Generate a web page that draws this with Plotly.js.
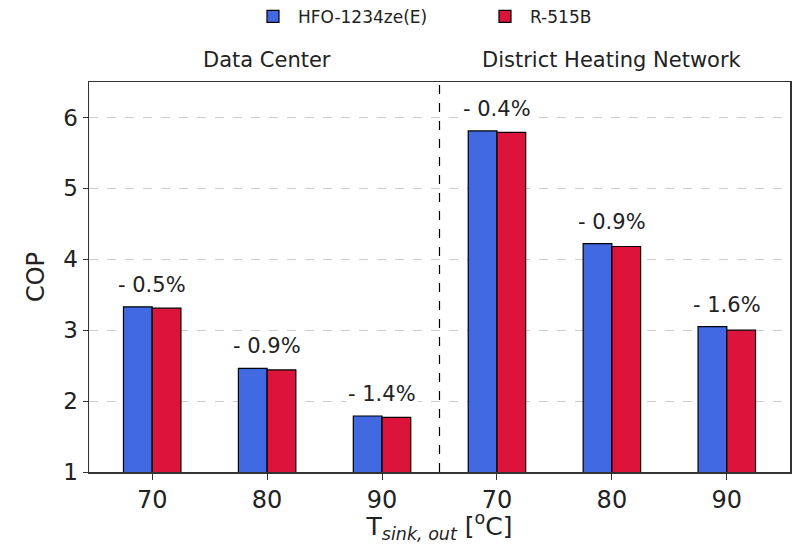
<!DOCTYPE html>
<html><head><meta charset="utf-8">
<script src="https://cdn.plot.ly/plotly-3.0.1.min.js"></script>
<style>html,body{margin:0;padding:0;background:#fff;}#chart{width:794px;height:544px;}</style>
</head><body><div id="chart"></div>
<script>
const groups = ["Data Center", "District Heating Network"];
const tickLabels = ["70", "80", "90", "70", "80", "90"];
const hfo = [3.33, 2.46, 1.79, 5.81, 4.22, 3.05];
const r515b = [3.31, 2.44, 1.77, 5.79, 4.18, 3.00];
const diffLabels = ["- 0.5%", "- 0.9%", "- 1.4%", "- 0.4%", "- 0.9%", "- 1.6%"];
const seriesNames = ["HFO-1234ze(E)", "R-515B"];

const idx = tickLabels.map((_, i) => i);
const font = "DejaVu Sans, sans-serif";
const txt = "#222";

const traces = [
  {type: "bar", name: seriesNames[0], x: idx, y: hfo,
   marker: {color: "#4169E1", line: {color: "#000", width: 1.2}}},
  {type: "bar", name: seriesNames[1], x: idx, y: r515b,
   marker: {color: "#DC143C", line: {color: "#000", width: 1.2}}}
];

const annotations = idx.map(i => ({
  x: i, y: Math.max(hfo[i], r515b[i]), xref: "x", yref: "y",
  text: diffLabels[i], showarrow: false, yanchor: "bottom", yshift: 8,
  bgcolor: "#fff", font: {family: font, size: 21, color: txt}
}));
annotations.push(
  {x: 1, y: 1.056, xref: "x", yref: "paper", yanchor: "middle", text: groups[0], showarrow: false,
   font: {family: font, size: 21, color: txt}},
  {x: 4, y: 1.056, xref: "x", yref: "paper", yanchor: "middle", text: groups[1], showarrow: false,
   font: {family: font, size: 21, color: txt}}
);

const layout = {
  width: 794, height: 544,
  margin: {l: 89, r: 4, t: 82, b: 72, autoexpand: false},
  paper_bgcolor: "#fff", plot_bgcolor: "#fff",
  barmode: "group", bargap: 0.5, bargroupgap: 0,
  font: {family: font, color: txt},
  showlegend: true,
  legend: {orientation: "h", x: 0.2268, xanchor: "left", y: 1.167, yanchor: "middle",
           font: {family: font, size: 17, color: txt}, traceorder: "normal",
           itemwidth: 40, entrywidth: 177, entrywidthmode: "pixels"},
  xaxis: {
    range: [-0.55, 5.55], tickmode: "array", tickvals: idx, ticktext: tickLabels,
    tickfont: {family: font, size: 24, color: txt},
    ticks: "outside", ticklen: 6, tickcolor: "#333",
    showline: true, linecolor: "#333", linewidth: 1.5, mirror: true,
    showgrid: false, zeroline: false,
    title: {text: "T<sub><i>sink, out</i></sub> [<sup>o</sup>C]", standoff: 2,
            font: {family: font, size: 25, color: txt}}
  },
  yaxis: {
    range: [1, 6.5], tickvals: [1, 2, 3, 4, 5, 6],
    tickfont: {family: font, size: 23, color: txt},
    ticks: "outside", ticklen: 5, tickcolor: "#333",
    showline: true, linecolor: "#333", linewidth: 1.5, mirror: true,
    showgrid: true, gridcolor: "#cccccc", griddash: "dash", gridwidth: 1,
    zeroline: false,
    title: {text: "COP", standoff: 12, font: {family: font, size: 24, color: txt}}
  },
  shapes: [{type: "line", xref: "x", yref: "paper", x0: 2.5, x1: 2.5, y0: 0, y1: 1,
            line: {color: "#000", width: 1.2, dash: "dash"}}],
  annotations: annotations
};

Plotly.newPlot("chart", traces, layout, {staticPlot: true, displayModeBar: false});
</script></body></html>
